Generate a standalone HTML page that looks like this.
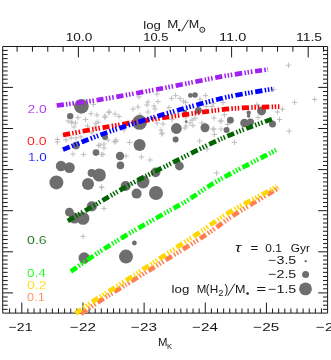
<!DOCTYPE html>
<html><head><meta charset="utf-8"><title>chart</title>
<style>html,body{margin:0;padding:0;background:#fff;}svg{display:block;}text{font-family:"Liberation Sans", sans-serif;}</style>
</head><body>
<svg width="331" height="360" viewBox="0 0 331 360" style="will-change:transform">
<defs><mask id="m"><rect width="331" height="360" fill="#fff"/></mask></defs>
<rect width="331" height="360" fill="#fff"/>
<path d="M2.7 46.5H327.6V313.1H2.7Z M17.12 46.5v5.2 M32.44 46.5v5.2 M47.76 46.5v5.2 M63.08 46.5v5.2 M78.40 46.5v10.9 M93.72 46.5v5.2 M109.04 46.5v5.2 M124.36 46.5v5.2 M139.68 46.5v5.2 M155.00 46.5v10.9 M170.32 46.5v5.2 M185.64 46.5v5.2 M200.96 46.5v5.2 M216.28 46.5v5.2 M231.60 46.5v10.9 M246.92 46.5v5.2 M262.24 46.5v5.2 M277.56 46.5v5.2 M292.88 46.5v5.2 M308.20 46.5v10.9 M323.52 46.5v5.2 M9.57 313.1v-4.6 M15.68 313.1v-4.6 M21.80 313.1v-10.5 M27.92 313.1v-4.6 M34.03 313.1v-4.6 M40.15 313.1v-4.6 M46.26 313.1v-4.6 M52.38 313.1v-4.6 M58.50 313.1v-4.6 M64.61 313.1v-4.6 M70.73 313.1v-4.6 M76.84 313.1v-4.6 M82.96 313.1v-10.5 M89.08 313.1v-4.6 M95.19 313.1v-4.6 M101.31 313.1v-4.6 M107.42 313.1v-4.6 M113.54 313.1v-4.6 M119.66 313.1v-4.6 M125.77 313.1v-4.6 M131.89 313.1v-4.6 M138.00 313.1v-4.6 M144.12 313.1v-10.5 M150.24 313.1v-4.6 M156.35 313.1v-4.6 M162.47 313.1v-4.6 M168.58 313.1v-4.6 M174.70 313.1v-4.6 M180.82 313.1v-4.6 M186.93 313.1v-4.6 M193.05 313.1v-4.6 M199.16 313.1v-4.6 M205.28 313.1v-10.5 M211.40 313.1v-4.6 M217.51 313.1v-4.6 M223.63 313.1v-4.6 M229.74 313.1v-4.6 M235.86 313.1v-4.6 M241.98 313.1v-4.6 M248.09 313.1v-4.6 M254.21 313.1v-4.6 M260.32 313.1v-4.6 M266.44 313.1v-10.5 M272.56 313.1v-4.6 M278.67 313.1v-4.6 M284.79 313.1v-4.6 M290.90 313.1v-4.6 M297.02 313.1v-4.6 M303.14 313.1v-4.6 M309.25 313.1v-4.6 M315.37 313.1v-4.6 M321.48 313.1v-4.6 M2.7 50.41h5.0 M327.6 50.41h-4.6 M2.7 54.52h5.0 M327.6 54.52h-4.6 M2.7 58.63h5.0 M327.6 58.63h-4.6 M2.7 62.74h5.0 M327.6 62.74h-4.6 M2.7 66.85h5.0 M327.6 66.85h-4.6 M2.7 70.96h5.0 M327.6 70.96h-4.6 M2.7 75.07h5.0 M327.6 75.07h-4.6 M2.7 79.18h5.0 M327.6 79.18h-4.6 M2.7 83.29h5.0 M327.6 83.29h-4.6 M2.7 87.40h10.3 M327.6 87.40h-9.4 M2.7 91.51h5.0 M327.6 91.51h-4.6 M2.7 95.62h5.0 M327.6 95.62h-4.6 M2.7 99.73h5.0 M327.6 99.73h-4.6 M2.7 103.84h5.0 M327.6 103.84h-4.6 M2.7 107.95h5.0 M327.6 107.95h-4.6 M2.7 112.06h5.0 M327.6 112.06h-4.6 M2.7 116.17h5.0 M327.6 116.17h-4.6 M2.7 120.28h5.0 M327.6 120.28h-4.6 M2.7 124.39h5.0 M327.6 124.39h-4.6 M2.7 128.50h10.3 M327.6 128.50h-9.4 M2.7 132.61h5.0 M327.6 132.61h-4.6 M2.7 136.72h5.0 M327.6 136.72h-4.6 M2.7 140.83h5.0 M327.6 140.83h-4.6 M2.7 144.94h5.0 M327.6 144.94h-4.6 M2.7 149.05h5.0 M327.6 149.05h-4.6 M2.7 153.16h5.0 M327.6 153.16h-4.6 M2.7 157.27h5.0 M327.6 157.27h-4.6 M2.7 161.38h5.0 M327.6 161.38h-4.6 M2.7 165.49h5.0 M327.6 165.49h-4.6 M2.7 169.60h10.3 M327.6 169.60h-9.4 M2.7 173.71h5.0 M327.6 173.71h-4.6 M2.7 177.82h5.0 M327.6 177.82h-4.6 M2.7 181.93h5.0 M327.6 181.93h-4.6 M2.7 186.04h5.0 M327.6 186.04h-4.6 M2.7 190.15h5.0 M327.6 190.15h-4.6 M2.7 194.26h5.0 M327.6 194.26h-4.6 M2.7 198.37h5.0 M327.6 198.37h-4.6 M2.7 202.48h5.0 M327.6 202.48h-4.6 M2.7 206.59h5.0 M327.6 206.59h-4.6 M2.7 210.70h10.3 M327.6 210.70h-9.4 M2.7 214.81h5.0 M327.6 214.81h-4.6 M2.7 218.92h5.0 M327.6 218.92h-4.6 M2.7 223.03h5.0 M327.6 223.03h-4.6 M2.7 227.14h5.0 M327.6 227.14h-4.6 M2.7 231.25h5.0 M327.6 231.25h-4.6 M2.7 235.36h5.0 M327.6 235.36h-4.6 M2.7 239.47h5.0 M327.6 239.47h-4.6 M2.7 243.58h5.0 M327.6 243.58h-4.6 M2.7 247.69h5.0 M327.6 247.69h-4.6 M2.7 251.80h10.3 M327.6 251.80h-9.4 M2.7 255.91h5.0 M327.6 255.91h-4.6 M2.7 260.02h5.0 M327.6 260.02h-4.6 M2.7 264.13h5.0 M327.6 264.13h-4.6 M2.7 268.24h5.0 M327.6 268.24h-4.6 M2.7 272.35h5.0 M327.6 272.35h-4.6 M2.7 276.46h5.0 M327.6 276.46h-4.6 M2.7 280.57h5.0 M327.6 280.57h-4.6 M2.7 284.68h5.0 M327.6 284.68h-4.6 M2.7 288.79h5.0 M327.6 288.79h-4.6 M2.7 292.90h10.3 M327.6 292.90h-9.4 M2.7 297.01h5.0 M327.6 297.01h-4.6 M2.7 301.12h5.0 M327.6 301.12h-4.6 M2.7 305.23h5.0 M327.6 305.23h-4.6 M2.7 309.34h5.0 M327.6 309.34h-4.6" stroke="#1a1a1a" stroke-width="1" fill="none"/>
<path d="M90.9 104.4h5.4M93.6 101.7v5.4 M88.3 113.6h5.4M91.0 110.9v5.4 M94.3 115.0h5.4M97.0 112.3v5.4 M102.3 116.0h5.4M105.0 113.3v5.4 M75.3 117.6h5.4M78.0 114.9v5.4 M82.9 119.6h5.4M85.6 116.9v5.4 M65.3 121.0h5.4M68.0 118.3v5.4 M69.3 122.0h5.4M72.0 119.3v5.4 M72.9 123.0h5.4M75.6 120.3v5.4 M95.3 122.0h5.4M98.0 119.3v5.4 M71.3 127.0h5.4M74.0 124.3v5.4 M84.9 126.0h5.4M87.6 123.3v5.4 M92.3 127.0h5.4M95.0 124.3v5.4 M54.7 139.5h5.4M57.4 136.8v5.4 M54.7 142.0h5.4M57.4 139.3v5.4 M63.3 140.0h5.4M66.0 137.3v5.4 M68.3 138.0h5.4M71.0 135.3v5.4 M73.3 138.0h5.4M76.0 135.3v5.4 M78.3 137.0h5.4M81.0 134.3v5.4 M89.3 133.0h5.4M92.0 130.3v5.4 M70.3 154.0h5.4M73.0 151.3v5.4 M80.9 154.4h5.4M83.6 151.7v5.4 M97.3 145.0h5.4M100.0 142.3v5.4 M101.3 148.0h5.4M104.0 145.3v5.4 M100.3 154.4h5.4M103.0 151.7v5.4 M154.3 94.0h5.4M157.0 91.3v5.4 M136.3 97.0h5.4M139.0 94.3v5.4 M145.3 102.0h5.4M148.0 99.3v5.4 M155.3 101.6h5.4M158.0 98.9v5.4 M144.3 105.0h5.4M147.0 102.3v5.4 M151.3 106.0h5.4M154.0 103.3v5.4 M135.3 107.0h5.4M138.0 104.3v5.4 M130.3 109.0h5.4M133.0 106.3v5.4 M152.3 109.0h5.4M155.0 106.3v5.4 M106.3 112.4h5.4M109.0 109.7v5.4 M112.3 114.0h5.4M115.0 111.3v5.4 M116.3 116.4h5.4M119.0 113.7v5.4 M145.3 112.0h5.4M148.0 109.3v5.4 M137.3 115.0h5.4M140.0 112.3v5.4 M102.3 117.4h5.4M105.0 114.7v5.4 M125.3 122.4h5.4M128.0 119.7v5.4 M154.3 123.0h5.4M157.0 120.3v5.4 M158.3 130.0h5.4M161.0 127.3v5.4 M159.3 134.0h5.4M162.0 131.3v5.4 M113.3 140.0h5.4M116.0 137.3v5.4 M121.3 130.0h5.4M124.0 127.3v5.4 M172.9 95.6h5.4M175.6 92.9v5.4 M168.9 98.4h5.4M171.6 95.7v5.4 M177.3 98.4h5.4M180.0 95.7v5.4 M202.9 95.6h5.4M205.6 92.9v5.4 M182.9 102.4h5.4M185.6 99.7v5.4 M166.3 107.6h5.4M169.0 104.9v5.4 M209.3 106.4h5.4M212.0 103.7v5.4 M211.3 118.0h5.4M214.0 115.3v5.4 M217.3 121.0h5.4M220.0 118.3v5.4 M160.3 124.0h5.4M163.0 121.3v5.4 M183.3 126.0h5.4M186.0 123.3v5.4 M189.3 120.0h5.4M192.0 117.3v5.4 M192.3 118.4h5.4M195.0 115.7v5.4 M183.3 117.0h5.4M186.0 114.3v5.4 M169.3 119.6h5.4M172.0 116.9v5.4 M218.3 129.0h5.4M221.0 126.3v5.4 M211.3 129.0h5.4M214.0 126.3v5.4 M190.3 125.6h5.4M193.0 122.9v5.4 M270.9 89.4h5.4M273.6 86.7v5.4 M220.3 102.6h5.4M223.0 99.9v5.4 M254.3 104.6h5.4M257.0 101.9v5.4 M279.7 109.2h5.4M282.4 106.5v5.4 M274.8 112.0h5.4M277.5 109.3v5.4 M221.7 114.8h5.4M224.4 112.1v5.4 M218.9 121.0h5.4M221.6 118.3v5.4 M276.8 119.5h5.4M279.5 116.8v5.4 M255.3 117.5h5.4M258.0 114.8v5.4 M285.8 65.2h5.4M288.5 62.5v5.4 M311.9 99.4h5.4M314.6 96.7v5.4 M291.9 102.4h5.4M294.6 99.7v5.4 M98.9 154.4h5.4M101.6 151.7v5.4 M98.9 187.0h5.4M101.6 184.3v5.4 M101.3 208.4h5.4M104.0 205.7v5.4 M126.9 142.4h5.4M129.6 139.7v5.4 M113.3 141.6h5.4M116.0 138.9v5.4 M101.3 144.0h5.4M104.0 141.3v5.4 M105.3 140.0h5.4M108.0 137.3v5.4 M123.3 156.0h5.4M126.0 153.3v5.4 M138.7 157.0h5.4M141.4 154.3v5.4 M147.3 160.0h5.4M150.0 157.3v5.4 M98.9 187.6h5.4M101.6 184.9v5.4 M159.3 133.0h5.4M162.0 130.3v5.4 M182.3 128.0h5.4M185.0 125.3v5.4 M187.3 123.0h5.4M190.0 120.3v5.4 M199.3 123.0h5.4M202.0 120.3v5.4 M210.3 129.0h5.4M213.0 126.3v5.4 M211.7 134.4h5.4M214.4 131.7v5.4 M196.9 141.0h5.4M199.6 138.3v5.4 M204.3 149.0h5.4M207.0 146.3v5.4 M213.9 173.0h5.4M216.6 170.3v5.4 M224.9 124.4h5.4M227.6 121.7v5.4 M231.7 142.4h5.4M234.4 139.7v5.4 M80.3 236.4h5.4M83.0 233.7v5.4 M286.5 131.2h5.4M289.2 128.5v5.4 M180.7 101.2h5.4M183.4 98.5v5.4 M197.3 99.3h5.4M200.0 96.6v5.4 M203.3 106.5h5.4M206.0 103.8v5.4 M210.5 103.2h5.4M213.2 100.5v5.4 M68.6 122.6h5.4M71.3 119.9v5.4 M93.3 123.3h5.4M96.0 120.6v5.4 M106.5 111.9h5.4M109.2 109.2v5.4 M111.6 141.9h5.4M114.3 139.2v5.4 M95.9 145.5h5.4M98.6 142.8v5.4" stroke="#bcbcbc" stroke-width="0.95" fill="none"/>
<g fill="#6e6e6e">
<circle cx="81.4" cy="106.4" r="7.3"/>
<circle cx="70.2" cy="116.1" r="3.2"/>
<circle cx="76" cy="145.6" r="3.8"/>
<circle cx="96" cy="152.6" r="3.3"/>
<circle cx="105" cy="137" r="3.0"/>
<circle cx="139.6" cy="122.4" r="7.4"/>
<circle cx="190.4" cy="95.4" r="2.4"/>
<circle cx="195" cy="95" r="2.8"/>
<circle cx="198.4" cy="110.4" r="3.4"/>
<circle cx="176.4" cy="128.5" r="5.4"/>
<circle cx="205" cy="127.8" r="4.5"/>
<circle cx="186.2" cy="121.6" r="1.4"/>
<circle cx="184.9" cy="111.5" r="2.0"/>
<circle cx="261.6" cy="110.9" r="4.5"/>
<circle cx="248.7" cy="112.8" r="2.2"/>
<circle cx="248.6" cy="116.0" r="1.8"/>
<circle cx="230.4" cy="120.2" r="3.4"/>
<circle cx="244.4" cy="123" r="4.2"/>
<circle cx="250.4" cy="122" r="3.6"/>
<circle cx="272.5" cy="124" r="3.5"/>
<circle cx="226.6" cy="130" r="3.0"/>
<circle cx="61" cy="166" r="5.2"/>
<circle cx="69.4" cy="167.6" r="5.4"/>
<circle cx="56.4" cy="182.4" r="7"/>
<circle cx="88" cy="184" r="6"/>
<circle cx="99.3" cy="175" r="6.6"/>
<circle cx="91.6" cy="173" r="4"/>
<circle cx="91.8" cy="206.4" r="5.1"/>
<circle cx="69.4" cy="212.2" r="4.4"/>
<circle cx="74.4" cy="218" r="5.6"/>
<circle cx="83" cy="218.4" r="6.4"/>
<circle cx="84.2" cy="258" r="5.7"/>
<circle cx="139.6" cy="145" r="6"/>
<circle cx="120" cy="156" r="4.2"/>
<circle cx="120.4" cy="165.4" r="3.8"/>
<circle cx="155.6" cy="172.4" r="4.8"/>
<circle cx="143" cy="182" r="6.4"/>
<circle cx="125.6" cy="186" r="5"/>
<circle cx="136.6" cy="193.6" r="5"/>
<circle cx="156" cy="193" r="7"/>
<circle cx="175.6" cy="139.4" r="3"/>
<circle cx="179.4" cy="166" r="4.4"/>
<circle cx="134.4" cy="243" r="2.4"/>
<circle cx="126" cy="256.6" r="7"/>
</g>
<path d="M80.90 313.90C84.10 311.72 93.98 304.82 100.10 300.80C106.22 296.78 111.40 293.67 117.60 289.80C123.80 285.93 123.28 286.32 137.30 277.60C151.32 268.88 185.32 248.12 201.70 237.50C218.08 226.88 222.80 222.15 235.60 213.90C248.40 205.65 271.35 192.32 278.50 188.00" stroke="#ff7f50" stroke-width="4.7" fill="none" stroke-dasharray="7.3 2.3 1.5 1.7 1.5 1.7 1.5 2.6"/>
<path d="M75.50 313.50C78.75 311.25 88.92 304.02 95.00 300.00C101.08 295.98 105.83 293.32 112.00 289.40C118.17 285.48 127.00 279.73 132.00 276.50C137.00 273.27 131.33 276.95 142.00 270.00C152.67 263.05 181.33 244.47 196.00 234.80C210.67 225.13 216.50 220.03 230.00 212.00C243.50 203.97 269.17 190.83 277.00 186.60" stroke="#ffd700" stroke-width="4.7" fill="none" stroke-dasharray="7.3 2.3 1.5 1.7 1.5 1.7 1.5 2.6"/>
<path d="M70.80 271.50C75.67 268.17 90.13 257.92 100.00 251.50C109.87 245.08 119.00 239.48 130.00 233.00C141.00 226.52 156.33 218.10 166.00 212.60C175.67 207.10 179.00 205.52 188.00 200.00C197.00 194.48 205.27 187.83 220.00 179.50C234.73 171.17 267.00 154.92 276.40 150.00" stroke="#00ff00" stroke-width="4.7" fill="none" stroke-dasharray="7.3 2.3 1.5 1.7 1.5 1.7 1.5 2.6"/>
<path d="M67.80 221.00C73.17 217.83 89.63 208.08 100.00 202.00C110.37 195.92 119.50 190.25 130.00 184.50C140.50 178.75 147.50 175.25 163.00 167.50C178.50 159.75 204.50 146.20 223.00 138.00C241.50 129.80 265.50 121.58 274.00 118.30" stroke="#006400" stroke-width="4.7" fill="none" stroke-dasharray="7.3 2.3 1.5 1.7 1.5 1.7 1.5 2.6"/>
<path d="M63.00 135.00C69.67 133.77 86.33 130.47 103.00 127.60C119.67 124.73 143.17 120.80 163.00 117.80C182.83 114.80 207.50 111.30 222.00 109.60C236.50 107.90 240.42 108.10 250.00 107.60C259.58 107.10 274.58 106.77 279.50 106.60" stroke="#ff0000" stroke-width="4.7" fill="none" stroke-dasharray="7.3 2.3 1.5 1.7 1.5 1.7 1.5 2.6"/>
<path d="M63.00 149.60C69.17 147.17 88.83 139.15 100.00 135.00C111.17 130.85 119.50 128.10 130.00 124.70C140.50 121.30 147.50 119.05 163.00 114.60C178.50 110.15 204.77 102.27 223.00 98.00C241.23 93.73 264.17 90.50 272.40 89.00" stroke="#0000ff" stroke-width="4.7" fill="none" stroke-dasharray="7.3 2.3 1.5 1.7 1.5 1.7 1.5 2.6"/>
<path d="M56.70 105.50C63.92 104.52 82.28 102.48 100.00 99.60C117.72 96.72 142.50 92.08 163.00 88.20C183.50 84.32 205.50 79.43 223.00 76.30C240.50 73.17 260.50 70.55 268.00 69.40" stroke="#a020f0" stroke-width="4.7" fill="none" stroke-dasharray="7.3 2.3 1.5 1.7 1.5 1.7 1.5 2.6"/>
<g fill="#6e6e6e"><circle cx="305.7" cy="261.1" r="1.2"/><circle cx="305.6" cy="274.4" r="3.5"/><circle cx="305.5" cy="288.9" r="6.4"/></g>
<g mask="url(#m)">
<text x="65.76" y="40.9" fill="#161616" font-size="11.8" textLength="26.48" lengthAdjust="spacingAndGlyphs">10.0</text>
<text x="143.22" y="40.9" fill="#161616" font-size="11.8" textLength="25.09" lengthAdjust="spacingAndGlyphs">10.5</text>
<text x="219.09" y="40.9" fill="#161616" font-size="11.8" textLength="27.32" lengthAdjust="spacingAndGlyphs">11.0</text>
<text x="295.93" y="40.9" fill="#161616" font-size="11.8" textLength="26.15" lengthAdjust="spacingAndGlyphs">11.5</text>
<text x="8.69" y="331.2" fill="#161616" font-size="11.8" textLength="23.74" lengthAdjust="spacingAndGlyphs">−21</text>
<text x="70.12" y="331.2" fill="#161616" font-size="11.8" textLength="25.87" lengthAdjust="spacingAndGlyphs">−22</text>
<text x="131.02" y="331.2" fill="#161616" font-size="11.8" textLength="25.95" lengthAdjust="spacingAndGlyphs">−23</text>
<text x="192.23" y="331.2" fill="#161616" font-size="11.8" textLength="25.68" lengthAdjust="spacingAndGlyphs">−24</text>
<text x="253.32" y="331.2" fill="#161616" font-size="11.8" textLength="25.95" lengthAdjust="spacingAndGlyphs">−25</text>
<text x="316.02" y="331.2" fill="#161616" font-size="11.8" textLength="25.95" lengthAdjust="spacingAndGlyphs">−26</text>
<text x="143.30" y="29.4" fill="#161616" font-size="11.8" textLength="17.63" lengthAdjust="spacingAndGlyphs">log</text>
<text x="167.27" y="28.2" fill="#161616" font-size="11.8" textLength="11.07" lengthAdjust="spacingAndGlyphs">M</text>
<text x="188.84" y="28.2" fill="#161616" font-size="11.8" textLength="10.45" lengthAdjust="spacingAndGlyphs">M</text>
<text x="158.04" y="345.8" fill="#161616" font-size="11.8" textLength="9.46" lengthAdjust="spacingAndGlyphs">M</text>
<text x="167.07" y="349.1" fill="#161616" font-size="7.2" textLength="5.04" lengthAdjust="spacingAndGlyphs">K</text>
<text x="27.50" y="112.5" fill="#a020f0" font-size="11.8" stroke="#fff" stroke-width="0.15" textLength="19.19" lengthAdjust="spacingAndGlyphs">2.0</text>
<text x="27.00" y="144.6" fill="#ff0000" font-size="11.8" stroke="#fff" stroke-width="0.15" textLength="19.71" lengthAdjust="spacingAndGlyphs">0.0</text>
<text x="27.97" y="160.8" fill="#0000ff" font-size="11.8" stroke="#fff" stroke-width="0.15" textLength="18.70" lengthAdjust="spacingAndGlyphs">1.0</text>
<text x="27.00" y="243.9" fill="#006400" font-size="11.8" stroke="#fff" stroke-width="0.15" textLength="19.71" lengthAdjust="spacingAndGlyphs">0.6</text>
<text x="27.02" y="276.5" fill="#00ff00" font-size="11.8" stroke="#fff" stroke-width="0.15" textLength="18.93" lengthAdjust="spacingAndGlyphs">0.4</text>
<text x="27.01" y="288.8" fill="#ffd700" font-size="11.8" stroke="#fff" stroke-width="0.15" textLength="19.51" lengthAdjust="spacingAndGlyphs">0.2</text>
<text x="27.06" y="300.8" fill="#ff7f50" font-size="11.8" stroke="#fff" stroke-width="0.15" textLength="17.80" lengthAdjust="spacingAndGlyphs">0.1</text>
<text x="235.10" y="251.6" fill="#161616" font-size="12.0" font-style="italic" textLength="6.25" lengthAdjust="spacingAndGlyphs">τ</text>
<text x="250.64" y="251.8" fill="#161616" font-size="11.8" textLength="7.62" lengthAdjust="spacingAndGlyphs">=</text>
<text x="265.30" y="251.8" fill="#161616" font-size="11.8" textLength="16.51" lengthAdjust="spacingAndGlyphs">0.1</text>
<text x="290.80" y="251.8" fill="#161616" font-size="11.8" textLength="19.11" lengthAdjust="spacingAndGlyphs">Gyr</text>
<text x="268.18" y="264.3" fill="#161616" font-size="11.8" textLength="28.12" lengthAdjust="spacingAndGlyphs">−3.5</text>
<text x="268.18" y="278.1" fill="#161616" font-size="11.8" textLength="28.12" lengthAdjust="spacingAndGlyphs">−2.5</text>
<text x="268.18" y="292.7" fill="#161616" font-size="11.8" textLength="28.12" lengthAdjust="spacingAndGlyphs">−1.5</text>
<text x="171.60" y="292.6" fill="#161616" font-size="11.8" textLength="17.74" lengthAdjust="spacingAndGlyphs">log</text>
<text x="196.63" y="292.6" fill="#161616" font-size="11.8" textLength="9.58" lengthAdjust="spacingAndGlyphs">M</text>
<text x="205.67" y="293.4" fill="#161616" font-size="12.6" textLength="3.82" lengthAdjust="spacingAndGlyphs">(</text>
<text x="209.70" y="292.6" fill="#161616" font-size="11.8" textLength="8.52" lengthAdjust="spacingAndGlyphs">H</text>
<text x="218.15" y="295.8" fill="#161616" font-size="8.3" textLength="5.22" lengthAdjust="spacingAndGlyphs">2</text>
<text x="224.41" y="293.4" fill="#161616" font-size="12.6" textLength="3.82" lengthAdjust="spacingAndGlyphs">)</text>
<text x="234.94" y="292.6" fill="#161616" font-size="11.8" textLength="10.45" lengthAdjust="spacingAndGlyphs">M</text>
<text x="256.24" y="292.6" fill="#161616" font-size="11.8" textLength="9.92" lengthAdjust="spacingAndGlyphs">=</text>
</g>
<path d="M181.6 31.3L188.5 19.7M227.7 295.7L234.9 283.6" stroke="#222" stroke-width="1" fill="none"/>
<circle cx="179.2" cy="30" r="1.3" fill="#222"/><circle cx="247.6" cy="293.5" r="1.3" fill="#222"/>
<circle cx="202.3" cy="29.8" r="2.5" fill="none" stroke="#222" stroke-width="1"/><circle cx="202.3" cy="29.8" r="0.6" fill="#222"/>
</svg></body></html>
